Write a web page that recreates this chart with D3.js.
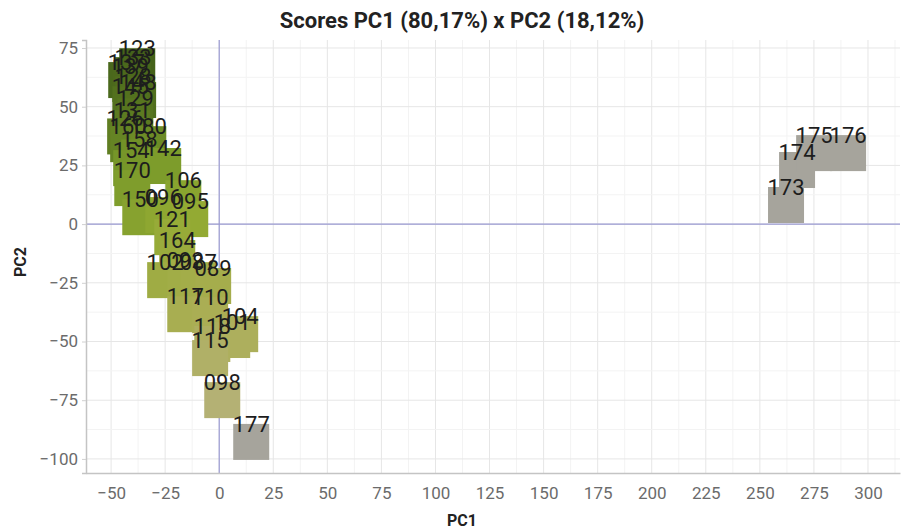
<!DOCTYPE html>
<html>
<head>
<meta charset="utf-8">
<script src="https://cdn.jsdelivr.net/npm/d3@7"></script>
<style>
  html, body { margin: 0; padding: 0; background: #fff; }
  svg { display: block; font-family: Roboto, "Noto Sans", sans-serif; }
</style>
</head>
<body>
<svg width="907" height="532"></svg>
<script>
// sample ids, PC scores and a colour tone per sample
let samples = ["123","133","137","139","128","148","145","129","131","126","160","180","158","154","142","170","106","150","096","095","121","164","102","092","087","089","117","110","104","118","101","115","098","177","173","174","175","176"]
let pc1 = [-37.9,-39.8,-43.0,-41.1,-39.8,-37.5,-41.1,-38.8,-40.2,-43.5,-42.1,-32.8,-37.0,-40.7,-25.9,-40.2,-16.6,-36.5,-25.9,-13.4,-21.7,-19.4,-25.0,-15.7,-9.7,-2.8,-15.7,-4.2,9.7,-3.2,6.0,-4.2,1.4,14.8,262.1,267.2,275.1,290.8]
let pc2 = [74.9,71.1,69.0,67.3,63.0,60.5,58.7,53.6,48.5,45.0,41.7,41.7,36.0,31.5,32.4,23.0,18.7,10.6,11.5,9.8,2.1,-6.8,-16.2,-15.3,-16.2,-18.7,-30.7,-31.1,-39.2,-43.4,-41.7,-49.4,-67.3,-85.1,15.8,30.7,37.9,37.9]
let tone = [0.0,0.02,0.03,0.04,0.06,0.07,0.08,0.1,0.13,0.15,0.18,0.22,0.25,0.28,0.32,0.34,0.42,0.4,0.46,0.5,0.54,0.58,0.64,0.66,0.68,0.7,0.74,0.76,0.8,0.84,0.82,0.88,0.96,1.5,1.6,1.6,1.6,1.6]
let xTicks = [-50,-25,0,25,50,75,100,125,150,175,200,225,250,275,300]
let yTicks = [-100,-75,-50,-25,0,25,50,75]

let plot_left = 86, plot_right = 900, plot_top = 40, plot_bottom = 473
let box = 36

let svg = d3.select("svg")

let x = d3.scaleLinear().domain([-61.6, 314.8]).range([plot_left, plot_right])
let y = d3.scaleLinear().domain([-106, 78.4]).range([plot_bottom, plot_top])
let colour = d3.scaleLinear()
  .domain([0, 0.3, 0.5, 0.75, 1, 1.4])
  .range(["#45621a", "#7a9a2a", "#93aa33", "#a9ae52", "#b6b17a", "#a6a49c"])
  .clamp(true)

// minor + major grid
let xMinor = d3.range(-62.5, 315, 12.5).filter(v => v > -61.6)
let yMinor = d3.range(-100, 80, 12.5)
svg.append("g").selectAll("line").data(xMinor).enter().append("line")
  .attr("x1", d => x(d)).attr("x2", d => x(d))
  .attr("y1", plot_top).attr("y2", plot_bottom)
  .attr("stroke", d => xTicks.includes(d) ? "#e6e6e6" : "#f3f3f3")
  .attr("stroke-width", 1)
svg.append("g").selectAll("line").data(yMinor).enter().append("line")
  .attr("x1", plot_left).attr("x2", plot_right)
  .attr("y1", d => y(d)).attr("y2", d => y(d))
  .attr("stroke", d => yTicks.includes(d) ? "#e6e6e6" : "#f3f3f3")
  .attr("stroke-width", 1)

// zero lines
svg.append("line").attr("x1", x(0)).attr("x2", x(0)).attr("y1", plot_top).attr("y2", plot_bottom)
  .attr("stroke", "#9a9ad2").attr("stroke-width", 1.2)
svg.append("line").attr("x1", plot_left).attr("x2", plot_right).attr("y1", y(0)).attr("y2", y(0))
  .attr("stroke", "#9a9ad2").attr("stroke-width", 1.2)

// axes
let xAxis = svg.append("g").attr("transform", `translate(0,${plot_bottom})`)
  .call(d3.axisBottom(x).tickValues(xTicks).tickSize(0).tickPadding(14))
let yAxis = svg.append("g").attr("transform", `translate(${plot_left},0)`)
  .call(d3.axisLeft(y).tickValues(yTicks).tickSize(4).tickPadding(4))
for (let g of [xAxis, yAxis]) {
  g.select(".domain").attr("stroke", "#c4c4c4").attr("stroke-width", 1.5)
  g.selectAll(".tick line").attr("stroke", "#d0d0d0")
  g.selectAll("text").attr("fill", "#6b6b6b").style("font-size", "17px")
    .style("font-family", "Roboto, sans-serif")
}

// points
let data = samples.map((s, i) => ({id: s, x: pc1[i], y: pc2[i], t: tone[i]}))

svg.append("g").selectAll("rect").data(data).enter().append("rect")
  .attr("x", d => x(d.x) - box / 2)
  .attr("y", d => y(d.y))
  .attr("width", box).attr("height", box)
  .attr("fill", d => colour(d.t))

svg.append("g").selectAll("text").data(data).enter().append("text")
  .attr("x", d => x(d.x))
  .attr("y", d => y(d.y))
  .attr("text-anchor", "middle")
  .attr("dy", "0.36em")
  .attr("fill", "#1d1d1d")
  .style("font-size", "22px")
  .text(d => d.id)

// titles
svg.append("text").attr("x", 462).attr("y", 28).attr("text-anchor", "middle")
  .style("font-size", "22px").style("font-weight", "bold").attr("fill", "#222")
  .text("Scores PC1 (80,17%) x PC2 (18,12%)")
svg.append("text").attr("x", 462).attr("y", 526).attr("text-anchor", "middle")
  .style("font-size", "16px").style("font-weight", "bold").attr("fill", "#222")
  .text("PC1")
svg.append("text").attr("transform", "translate(26,262) rotate(-90)")
  .attr("text-anchor", "middle")
  .style("font-size", "16px").style("font-weight", "bold").attr("fill", "#222")
  .text("PC2")
</script>
</body>
</html>
